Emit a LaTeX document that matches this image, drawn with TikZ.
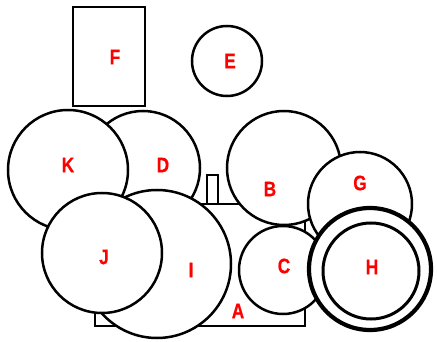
\documentclass[tikz,border=0pt]{standalone}
\usepackage{fontspec}
\newfontfamily\labfont{Liberation Sans}[FakeStretch=0.82,FakeBold=0.6]
\begin{document}
\begin{tikzpicture}[x=1pt,y=-1pt,
  shp/.style={draw=black, fill=white, line width=2.5pt, inner sep=0pt, outer sep=0pt},
  circ/.style={shp, circle},
  box/.style={shp, rectangle},
  lab/.style={text=red, inner sep=0pt, font=\labfont\bfseries\fontsize{21}{21}\selectfont}]
\useasboundingbox[fill=white] (0,0) rectangle (437,342);
% drawing order = stacking order
\node[circ, minimum size=114pt] (D) at (143,168) {};
\node[circ, minimum size=120pt] (K) at (68,170) {};
\node[box, minimum width=210pt, minimum height=122pt] (A) at (200,265) {};
\node[box, minimum width=11pt, minimum height=29pt] (S) at (212.5,189.5) {};
\node[circ, minimum size=148pt] (I) at (157,264) {};
\node[circ, minimum size=120pt] (J) at (102,253) {};
\node[circ, minimum size=114pt] (B) at (284,168) {};
\node[circ, minimum size=88pt] (C) at (283,270) {};
\node[circ, minimum size=104pt] (G) at (360,204) {};
\node[circ, line width=4.2pt, minimum size=122pt] (H) at (370,269) {};
\node[circ, line width=3pt, minimum size=96pt] (Hin) at (371,271) {};
\node[circ, minimum size=70pt] (E) at (227,61) {};
\node[box, minimum width=72pt, minimum height=99pt] (F) at (109,56.5) {};
% labels
\node[lab] (Fl) at (115,57) {F};
\node[lab] (El) at (230,61) {E};
\node[lab] (Kl) at (68,165) {K};
\node[lab] (Dl) at (163,165) {D};
\node[lab] (Bl) at (270,189) {B};
\node[lab] (Gl) at (360,183) {G};
\node[lab] (Hl) at (372,267) {H};
\node[lab] (Cl) at (284,266) {C};
\node[lab] (Al) at (238,311) {A};
\node[lab] (Jl) at (104,257) {J};
\node[lab] (Il) at (191,270) {I};
\end{tikzpicture}
\end{document}
